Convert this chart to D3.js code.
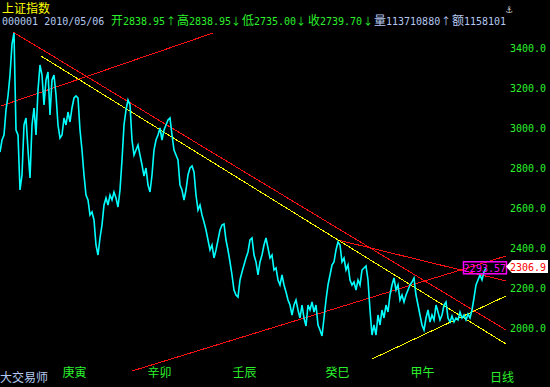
<!DOCTYPE html>
<html lang="zh">
<meta charset="utf-8">
<title>上证指数</title>
<head>
<style>
  body { margin: 0; background: #000; }
  svg { display: block; }
  text { font-family: "DejaVu Sans Mono", "Noto Sans CJK SC", monospace; }
</style>
</head>
<body>
  <script src="https://d3js.org/d3.v7.min.js"></script>
  <div id="chart"></div>
  <script>

    // closing values, one every 2 bars-width
    var closes = [
      2880, 2940, 2965, 3090, 3160, 3265, 3420, 3475, 2990, 2965,
      2690, 2765, 3015, 3050, 2890, 2750, 3015, 3100, 2965, 3190,
      3315, 3265, 3115, 3240, 3280, 3065, 3240, 3265, 3165, 3015,
      2950, 2965, 3050, 3015, 3080, 3030, 3100, 3150, 3160, 3150,
      2990, 2890, 2765, 2665, 2640, 2565, 2580, 2540, 2415, 2365,
      2450, 2515, 2615, 2650, 2615, 2665, 2640, 2680, 2650, 2605,
      2690, 2840, 3015, 3090, 3140, 3115, 2940, 2865, 2890, 2915,
      2865, 2815, 2760, 2800, 2715, 2680, 2765, 2890, 2940, 2965,
      3000, 2940, 2990, 3015, 3040, 3050, 2965, 2890, 2865, 2840,
      2715, 2690, 2640, 2690, 2765, 2800, 2810, 2780, 2665, 2590,
      2615, 2565, 2530, 2490, 2440, 2390, 2415, 2350, 2390, 2440,
      2490, 2515, 2520, 2440, 2390, 2330, 2265, 2190, 2165, 2155,
      2240, 2280, 2315, 2350, 2380, 2440, 2450, 2365, 2330, 2265,
      2330, 2365, 2415, 2450, 2400, 2350, 2365, 2290, 2300, 2240,
      2215, 2265, 2215, 2180, 2140, 2115, 2065, 2115, 2140, 2090,
      2050, 2115, 2050, 2010, 2115, 2090, 2130, 2080, 2115, 2015,
      1990, 1960, 2050, 2140, 2215, 2265, 2315, 2330, 2390, 2430,
      2415, 2330, 2350, 2290, 2315, 2240, 2215, 2230, 2190, 2240,
      2215, 2290, 2300, 2310, 2240, 2090, 1965, 2015, 1965, 2065,
      2015, 2090, 2050, 2115, 2080, 2165, 2215, 2250, 2190, 2215,
      2140, 2165, 2130, 2165, 2190, 2215, 2230, 2250, 2165, 2115,
      2065, 2015, 1990, 2050, 2090, 2030, 2065, 2040, 2115, 2080,
      2040, 2065, 2115, 2130, 2050, 2030, 2060, 2030, 2050, 2040,
      2080, 2050, 2065, 2040, 2070, 2050, 2090, 2150, 2215, 2240,
      2265, 2240, 2280, 2300
    ];

    // drawn trend lines: [position, value] pairs
    var redLines = [
      [[6.5, 3480], [253, 1990]],
      [[169, 2440], [253, 2235]],
      [[0.5, 3110], [106.5, 3475]],
      [[66, 1785], [253, 2360]]
    ];
    var yellowLines = [
      [[20.5, 3360], [253, 1920]],
      [[186, 1845], [253, 2160]]
    ];

    var yTicks = [2000, 2200, 2400, 2600, 2800, 3000, 3200, 3400];
    var yearNames = ["庚寅", "辛卯", "壬辰", "癸巳", "甲午"];
    var yearPos = [31, 73.5, 116, 162.5, 205];

    var lastPrice = 2306.9;
    var markPrice = 2293.57;

    var width = 550, height = 387;
    var green = "#2cf02c", blue = "#b4c8f0";

    var svg = d3.select("#chart").append("svg")
      .attr("width", width)
      .attr("height", height)
      .style("background", "#000");

    var x = d3.scaleLinear().domain([0, 253]).range([0, 506]);
    var y = d3.scaleLinear().domain([3400, 2000]).range([48, 328]);

    // header
    svg.append("text").attr("x", 2).attr("y", 13)
      .attr("fill", "#ffff00").attr("font-size", 12).text("上证指数");

    var header = [
      [2, "000001 2010/05/06", blue],
      [111, "开", green], [123, "2838.95", green], [166, "↑", green],
      [177, "高", green], [189, "2838.95", green], [231, "↓", green],
      [242, "低", green], [254, "2735.00", green], [296, "↓", green],
      [308, "收", green], [320, "2739.70", green], [363, "↓", green],
      [374, "量", blue], [386, "113710880", blue], [441, "↑", blue],
      [452, "额", blue], [464, "1158101", blue]
    ];
    svg.append("g").selectAll("text")
      .data(header)
      .enter().append("text")
      .attr("x", d => d[0])
      .attr("y", 25)
      .attr("fill", d => d[2])
      .attr("font-size", d => /[0-9↑↓]/.test(d[1]) ? 10 : 12)
      .style("font-family", d => /[↑↓]/.test(d[1]) ? "Noto Sans CJK SC" : null)
      .text(d => d[1]);

    svg.append("text").attr("x", 506).attr("y", 13)
      .attr("fill", "#c8c8c8").attr("font-size", 11).text("⚓");

    // price axis on the right
    var yAxis = svg.append("g")
      .attr("transform", "translate(546,0)")
      .call(d3.axisLeft(y).tickValues(yTicks).tickSize(0).tickPadding(0)
        .tickFormat(d3.format(".1f")));
    yAxis.select(".domain").remove();
    yAxis.selectAll("text")
      .attr("fill", green)
      .attr("font-size", 10)
      .style("font-family", "DejaVu Sans Mono, monospace");

    // year axis at the bottom
    var xAxis = svg.append("g")
      .attr("transform", "translate(0,368)")
      .call(d3.axisBottom(x).tickValues(yearPos).tickSize(0).tickPadding(0)
        .tickFormat((d, i) => yearNames[i]));
    xAxis.select(".domain").remove();
    xAxis.selectAll("text")
      .attr("fill", green)
      .attr("font-size", 12)
      .attr("text-anchor", "start")
      .attr("dy", "0.71em")
      .style("font-family", "Noto Sans CJK SC");

    svg.append("text").attr("x", 0).attr("y", 382)
      .attr("fill", blue).attr("font-size", 12).text("大交易师");
    svg.append("text").attr("x", 490).attr("y", 382)
      .attr("fill", green).attr("font-size", 12).text("日线");

    // trend lines
    var seg = d3.line().x(d => x(d[0])).y(d => y(d[1]));
    svg.append("g").selectAll("path")
      .data(redLines)
      .enter().append("path")
      .attr("d", seg)
      .attr("fill", "none")
      .attr("stroke", "#ff1010")
      .attr("stroke-width", 1)
      .attr("shape-rendering", "crispEdges");
    svg.append("g").selectAll("path")
      .data(yellowLines)
      .enter().append("path")
      .attr("d", seg)
      .attr("fill", "none")
      .attr("stroke", "#ffff00")
      .attr("stroke-width", 1)
      .attr("shape-rendering", "crispEdges");

    // price line
    svg.append("path")
      .datum(closes)
      .attr("fill", "none")
      .attr("stroke", "#00ffff")
      .attr("stroke-width", 1.6)
      .attr("d", d3.line().x((d, i) => x(i)).y(d => y(d)));

    // marked price box
    var my = y(markPrice);
    svg.append("rect")
      .attr("x", 463.5).attr("y", my - 7.5)
      .attr("width", 43).attr("height", 12)
      .attr("fill", "none").attr("stroke", "#ff00ff").attr("stroke-width", 1.5);
    svg.append("text")
      .attr("x", 506).attr("y", my + 3)
      .attr("text-anchor", "end")
      .attr("fill", "#ff00ff").attr("font-size", 10)
      .text(d3.format(".2f")(markPrice));

    // last price tag
    var ly = y(lastPrice);
    svg.append("path")
      .attr("d", "M506," + ly + "L512," + (ly - 6.5) + "H548V" + (ly + 6.5) + "H512Z")
      .attr("fill", "#ffffff");
    svg.append("text")
      .attr("x", 546).attr("y", ly + 4)
      .attr("text-anchor", "end")
      .attr("fill", "#ff0000").attr("font-size", 10)
      .text(d3.format(".1f")(lastPrice));

  </script>
</body>
</html>
